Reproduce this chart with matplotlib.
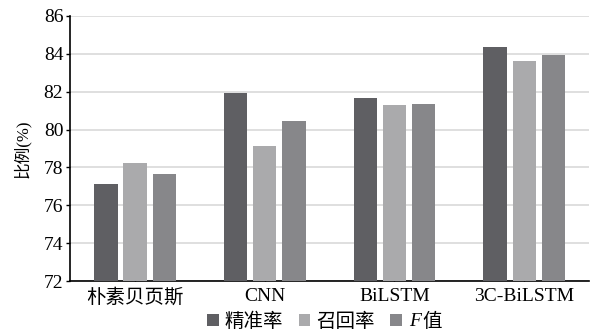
import matplotlib
matplotlib.use("Agg")
import matplotlib.pyplot as plt
import numpy as np

plt.rcParams['font.family'] = ['Liberation Serif', 'Noto Sans CJK SC']

categories = ['朴素贝页斯', 'CNN', 'BiLSTM', '3C-BiLSTM']
# the last name is redrawn below as an italic F plus 值
series_names = ['精准率', '召回率', '   值']
precision = [77.1, 81.95, 81.65, 84.35]
recall = [78.25, 79.15, 81.3, 83.6]
f_score = [77.65, 80.45, 81.35, 83.95]
colors = ['#5f5f63', '#aaaaac', '#87878a']

fig = plt.figure(figsize=(5.95, 3.31), dpi=100)
ax = fig.add_axes([0.118, 0.151, 0.872, 0.801])

x = np.arange(len(categories))
width = 0.18
step = 0.225
for i, (vals, name, c) in enumerate(zip([precision, recall, f_score], series_names, colors)):
    ax.bar(x + (i - 1) * step, vals, width, color=c, label=name, zorder=3)

ax.set_xlim(-0.5, 3.5)
ax.set_ylim(72, 86)
ax.set_yticks(np.arange(72, 87, 2))
ax.yaxis.grid(True, color='#d9d9d9', linewidth=1.2, zorder=0)
ax.set_xticks(x)
ax.set_xticklabels(categories, fontsize=14)
ax.tick_params(axis='x', direction='in', length=4, width=1, pad=5)
ax.tick_params(axis='y', direction='out', length=3, width=1, labelsize=14, pad=2)
for side in ['top', 'right']:
    ax.spines[side].set_visible(False)
for side in ['left', 'bottom']:
    ax.spines[side].set_linewidth(1.2)
ax.set_ylabel('比例(%)', fontsize=12, labelpad=9)

leg = ax.legend(loc='upper center', bbox_to_anchor=(0.49, -0.09), ncol=3, frameon=False,
                fontsize=14, handlelength=0.6, handleheight=0.6, handletextpad=0.3,
                columnspacing=0.8, borderaxespad=0)

# replace the last legend label with an italic F and an upright 值
fig.canvas.draw()
last = leg.get_texts()[2]
bb = last.get_window_extent()
last.set_visible(False)
inv = fig.transFigure.inverted()
ymid = (bb.y0 + bb.y1) / 2
fx, fy = inv.transform((bb.x0 + 1, ymid))
fig.text(fx, fy, 'F', fontsize=14, family='Liberation Serif', style='italic',
         ha='left', va='center')
vx, vy = inv.transform((bb.x1, ymid))
fig.text(vx, vy, '值', fontsize=14, ha='right', va='center')

fig.savefig('out.png', dpi=100)
